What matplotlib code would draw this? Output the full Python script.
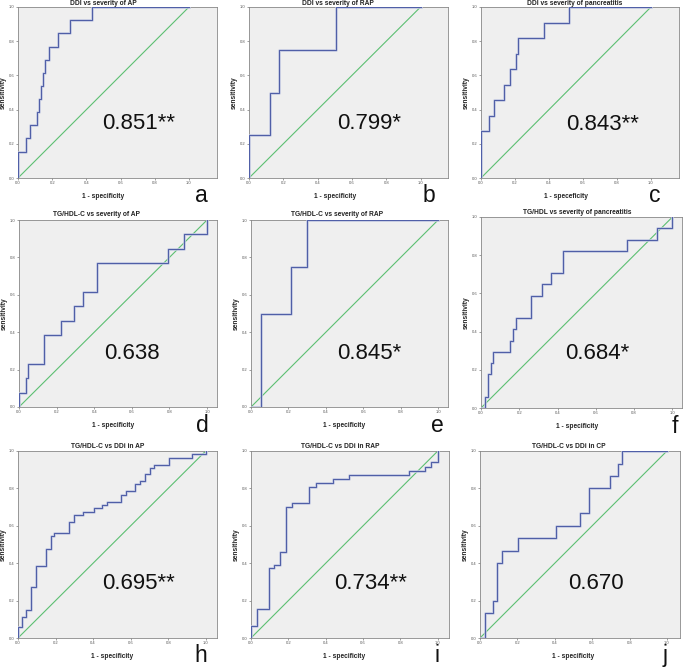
import matplotlib
matplotlib.use("Agg")
import matplotlib.pyplot as plt
import numpy as np

plt.rcParams['font.family'] = ['Liberation Sans', 'DejaVu Sans']

# ---------------- data ----------------
titles = ["DDI vs severity of AP", "DDI vs severity of RAP", "DDI vs severity of pancreatitis",
          "TG/HDL-C vs severity of AP", "TG/HDL-C vs severity of RAP", "TG/HDL vs severity of pancreatitis",
          "TG/HDL-C vs DDi in AP", "TG/HDL-C vs DDi in RAP", "TG/HDL-C vs DDi in CP"]
xlabels = ["1 - specificity", "1 - specificity", "1 - speceficity",
           "1 - specificity", "1 - specificity", "1 - specificity",
           "1 - specificity", "1 - specificity", "1 - specificity"]
auc_texts = ["0.851**", "0.799*", "0.843**", "0.638", "0.845*", "0.684*", "0.695**", "0.734**", "0.670"]
panel_letters = ["a", "b", "c", "d", "e", "f", "h", "i", "j"]

a_fpr = [0, 0, 0.049, 0.072, 0.111, 0.123, 0.135, 0.146, 0.16, 0.18, 0.234, 0.307, 0.43, 1.0]
a_tpr = [0, 0.154, 0.231, 0.308, 0.385, 0.462, 0.538, 0.615, 0.692, 0.769, 0.846, 0.923, 1.0, 1.0]
b_fpr = [0, 0, 0.121, 0.176, 0.51, 1.0]
b_tpr = [0, 0.25, 0.5, 0.75, 1.0, 1.0]
c_fpr = [0, 0, 0.045, 0.078, 0.137, 0.173, 0.208, 0.216, 0.369, 0.52, 1.0]
c_tpr = [0, 0.273, 0.364, 0.455, 0.545, 0.636, 0.727, 0.818, 0.909, 1.0, 1.0]
d_fpr = [0, 0, 0.036, 0.046, 0.133, 0.221, 0.292, 0.342, 0.413, 0.79, 0.875, 1.0]
d_tpr = [0, 0.077, 0.154, 0.231, 0.385, 0.462, 0.538, 0.615, 0.769, 0.846, 0.923, 1.0]
e_fpr = [0, 0.053, 0.214, 0.3, 1.0]
e_tpr = [0, 0.5, 0.75, 1.0, 1.0]
f_fpr = [0, 0.019, 0.035, 0.05, 0.061, 0.15, 0.167, 0.181, 0.259, 0.318, 0.365, 0.426, 0.762, 0.918, 1.0]
f_tpr = [0, 0.059, 0.176, 0.235, 0.294, 0.353, 0.412, 0.471, 0.588, 0.647, 0.706, 0.824, 0.882, 0.941, 1.0]
h_fpr = [0, 0, 0.023, 0.044, 0.071, 0.098, 0.151, 0.178, 0.192, 0.27, 0.297, 0.347, 0.404, 0.448,
         0.472, 0.546, 0.573, 0.623, 0.65, 0.676, 0.703, 0.724, 0.804, 0.925, 1.0]
h_tpr = [0, 0.057, 0.112, 0.151, 0.275, 0.384, 0.476, 0.547, 0.563, 0.62, 0.657, 0.675, 0.693, 0.71,
         0.728, 0.764, 0.785, 0.821, 0.838, 0.879, 0.909, 0.927, 0.963, 0.982, 1.0]
i_fpr = [0, 0, 0.03, 0.096, 0.124, 0.154, 0.19, 0.22, 0.31, 0.346, 0.438, 0.527, 0.846, 0.934, 0.966, 1.0]
i_tpr = [0, 0.066, 0.155, 0.373, 0.393, 0.459, 0.7, 0.721, 0.807, 0.83, 0.85, 0.873, 0.895, 0.914, 0.939, 1.0]
j_fpr = [0, 0.027, 0.071, 0.093, 0.116, 0.205, 0.404, 0.537, 0.582, 0.694, 0.738, 0.76, 1.0]
j_tpr = [0, 0.133, 0.2, 0.4, 0.467, 0.533, 0.6, 0.667, 0.8, 0.867, 0.933, 1.0, 1.0]

curves = [(a_fpr, a_tpr), (b_fpr, b_tpr), (c_fpr, c_tpr), (d_fpr, d_tpr), (e_fpr, e_tpr),
          (f_fpr, f_tpr), (h_fpr, h_tpr), (i_fpr, i_tpr), (j_fpr, j_tpr)]

# ---------------- layout (pixel boxes: left, right, top, bottom) ----------------
W, H = 685, 667
boxes = [(18, 217, 7, 178), (249, 448, 7, 178), (481, 679, 7, 178),
         (19, 217, 220, 407), (251, 448, 220, 407), (481, 682, 217, 408),
         (18, 217, 451, 638), (251, 449, 451, 638), (480, 680, 451, 638)]
xmaxes = [1.164, 1.16, 1.165, 1.053, 1.053, 1.05, 1.06, 1.06, 1.07]
title_x = [0.43, 0.447, 0.475, 0.39, 0.437, 0.48, 0.45, 0.45, 0.445]
title_y_px = [3.5, 3.5, 3.5, 214, 214, 212, 446, 446, 446]
auc_pos = [(0.707, 0.32), (0.70, 0.32), (0.716, 0.31), (0.60, 0.285), (0.63, 0.285),
           (0.605, 0.284), (0.64, 0.293), (0.64, 0.29), (0.62, 0.29)]
letter_pos = [(201, 202), (429, 202), (655, 202), (202, 432), (437, 432), (675, 433),
              (201, 662), (437, 662), (665, 662)]

fig = plt.figure(figsize=(W / 100, H / 100), dpi=100)
fig.patch.set_facecolor("white")

for k in range(9):
    L, R, T, B = boxes[k]
    ax = fig.add_axes([L / W, 1 - B / H, (R - L) / W, (B - T) / H])
    ax.set_facecolor("#efefef")
    fpr, tpr = curves[k]
    ax.plot([0, 1], [0, 1], color="#5cbf72", lw=0.8, zorder=2)
    ax.plot(fpr, tpr, drawstyle="steps-post", color="#bcc3de", lw=1.8, zorder=3)
    ax.plot(fpr, tpr, drawstyle="steps-post", color="#4d5ca6", lw=0.7, zorder=4)
    ax.set_xlim(0, xmaxes[k])
    ax.set_ylim(0, 1.0)
    ticks = [0, 0.2, 0.4, 0.6, 0.8, 1.0]
    ax.set_xticks(ticks)
    ax.set_yticks(ticks)
    ax.set_xticklabels([f"{t:.1f}" for t in ticks])
    ax.set_yticklabels([f"{t:.1f}" for t in ticks])
    ax.tick_params(labelsize=3.0, length=1.6, width=0.4, pad=0.8, colors="#555555")
    for s in ax.spines.values():
        s.set_color("#888888")
        s.set_linewidth(0.6)
    fig.text((L + title_x[k] * (R - L)) / W, 1 - title_y_px[k] / H, titles[k],
             ha="center", va="center", fontsize=4.8, fontweight="bold", color="#222222")
    ax.set_xlabel(xlabels[k], fontsize=4.8, fontweight="bold", color="#222222")
    ax.xaxis.set_label_coords(0.5 / xmaxes[k], -15.0 / (B - T), transform=ax.transAxes)
    ax.set_ylabel("sensitivity", fontsize=4.8, fontweight="bold", color="#222222")
    ax.yaxis.set_label_coords(-11.5 / (R - L), 0.5, transform=ax.transAxes)
    ax.text(auc_pos[k][0], auc_pos[k][1], auc_texts[k], ha="center", va="center",
            fontsize=16, color="#111111", zorder=5)
    lx, ly = letter_pos[k]
    fig.text(lx / W, 1 - ly / H, panel_letters[k], ha="center", va="baseline",
             fontsize=16.5, color="#111111")

fig.savefig("out.png", dpi=100, facecolor="white")
